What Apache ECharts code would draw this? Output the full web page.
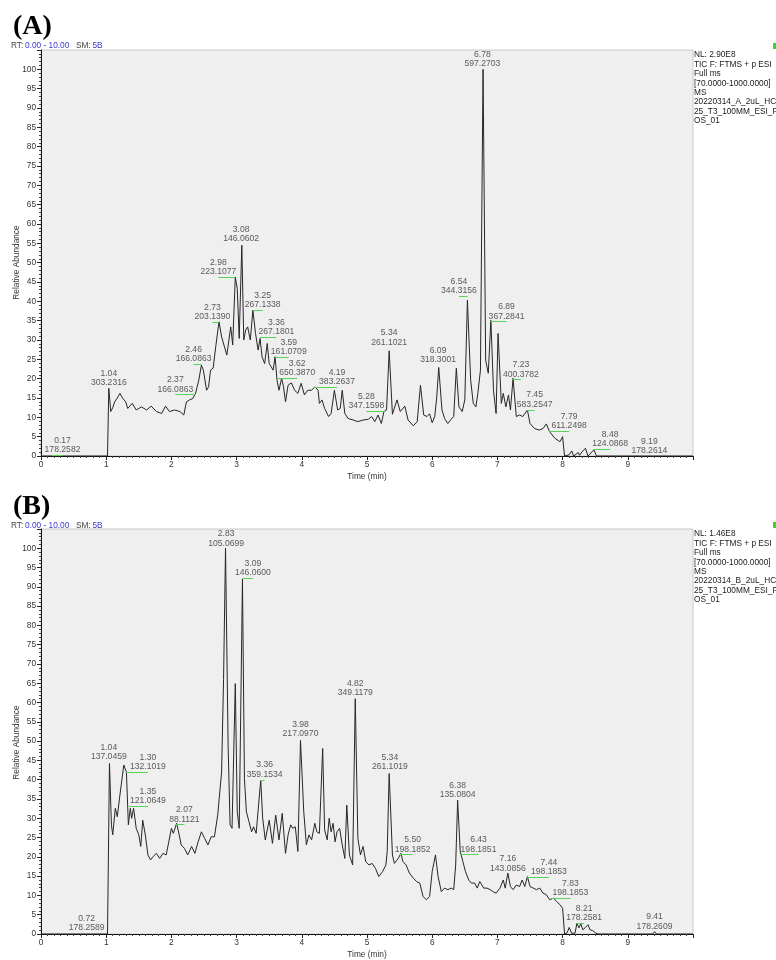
<!DOCTYPE html>
<html>
<head>
<meta charset="utf-8">
<title>TIC chromatograms</title>
<script src="https://cdn.jsdelivr.net/npm/echarts@6/dist/echarts.min.js"></script>
<style>
  html, body { margin: 0; padding: 0; background: #fff; }
  #chart { width: 776px; height: 960px; }
</style>
</head>
<body>
<div id="chart"></div>
<script>
// ---- data: retention time (min) and relative abundance (%) ----
const rtA = [0, 1.02, 1.04, 1.07, 1.10, 1.13, 1.17, 1.21, 1.25, 1.30, 1.33, 1.40, 1.46, 1.54, 1.62, 1.69, 1.77, 1.85, 1.91, 1.97,
  2.05, 2.13, 2.19, 2.23, 2.28, 2.33, 2.37, 2.42, 2.46, 2.49, 2.54, 2.57, 2.60, 2.64, 2.68, 2.73, 2.77, 2.80, 2.85, 2.91,
  2.94, 2.98, 3.01, 3.04, 3.08, 3.11, 3.14, 3.17, 3.21, 3.25, 3.29, 3.33, 3.36, 3.39, 3.43, 3.47, 3.50, 3.53, 3.56, 3.59,
  3.62, 3.65, 3.69, 3.72, 3.75, 3.79, 3.84, 3.89, 3.94, 3.99, 4.04, 4.09, 4.15, 4.20, 4.25, 4.27, 4.31, 4.35, 4.41, 4.45,
  4.50, 4.55, 4.59, 4.62, 4.66, 4.71, 4.79, 4.86, 4.94, 5.02, 5.07, 5.12, 5.17, 5.22, 5.26, 5.30, 5.34, 5.39, 5.46, 5.51,
  5.58, 5.63, 5.71, 5.77, 5.82, 5.87, 5.92, 5.96, 6.00, 6.04, 6.07, 6.10, 6.15, 6.19, 6.24, 6.29, 6.33, 6.37, 6.41, 6.46,
  6.50, 6.54, 6.59, 6.63, 6.67, 6.70, 6.74, 6.78, 6.82, 6.86, 6.90, 6.94, 6.98, 7.01, 7.06, 7.09, 7.13, 7.17, 7.20, 7.24,
  7.29, 7.34, 7.39, 7.46, 7.50, 7.57, 7.64, 7.70, 7.75, 7.80, 7.88, 7.96, 8.00, 8.03, 8.06, 8.10, 8.14, 8.17, 8.24, 8.26,
  8.30, 8.35, 8.39, 8.48, 8.52, 10];
const abA = [0, 0, 17.5, 11.5, 12.5, 14, 15, 16.2, 15, 14, 12.3, 13.6, 11.9, 12.7, 11.9, 12.9, 11.5, 11, 12.9, 11.5,
  11.9, 11.5, 10.6, 14, 14.5, 14.9, 16.2, 19.6, 23.5, 22.2, 17, 17.9, 22.2, 22.7, 28.3, 34.7, 30.8, 31.3, 26.1, 33.4,
  28.7, 46.3, 43.3, 30.4, 54.5, 30, 32.6, 33.4, 30, 37.7, 31.7, 27.4, 30.4, 25.7, 23.9, 29.1, 23.9, 23.1, 22.2, 25.7,
  19.6, 17, 20.1, 17.9, 14, 18.3, 18.9, 17, 16.2, 18.8, 15.8, 17, 17, 17.9, 17, 13.6, 14.5, 12.3, 10.2, 11,
  17, 11.9, 12.3, 17, 11, 9.7, 9.3, 8.9, 9.3, 9.5, 10.2, 8.9, 10.6, 8.4, 11.5, 11.9, 27.2, 10.8, 14.5, 11.5,
  12.9, 9.3, 7.8, 8.9, 18.3, 10.6, 10.2, 10.9, 8.6, 10.3, 15.3, 22.9, 11.9, 9.7, 8.4, 9.5, 10.2, 22.7, 12.7, 11.5,
  14.5, 40.3, 19.6, 13.6, 12.7, 16.2, 22.2, 100, 24.8, 21.4, 35.1, 17, 11, 31.7, 13.6, 16.2, 12.7, 15.8, 11.9, 20.1,
  10.2, 10.6, 10.2, 11.9, 8.4, 7.1, 6.7, 7.1, 8.3, 6.3, 4.6, 3.7, 5, 0, 0.5, 0.3, 1.3, 0, 0.9, 0.2,
  1.1, 2, 0, 1.6, 0, 0];

const rtB = [0, 1.02, 1.05, 1.08, 1.10, 1.14, 1.17, 1.21, 1.25, 1.27, 1.31, 1.34, 1.37, 1.39, 1.42, 1.46, 1.50, 1.53, 1.56, 1.60,
  1.64, 1.68, 1.72, 1.77, 1.82, 1.87, 1.92, 1.96, 2.00, 2.03, 2.08, 2.12, 2.15, 2.20, 2.25, 2.31, 2.36, 2.41, 2.46, 2.51,
  2.56, 2.61, 2.66, 2.71, 2.77, 2.80, 2.83, 2.87, 2.90, 2.93, 2.98, 3.01, 3.04, 3.09, 3.12, 3.15, 3.19, 3.23, 3.26, 3.30,
  3.33, 3.37, 3.40, 3.44, 3.50, 3.55, 3.60, 3.65, 3.70, 3.75, 3.79, 3.83, 3.86, 3.90, 3.94, 3.98, 4.03, 4.07, 4.11, 4.15,
  4.20, 4.23, 4.27, 4.32, 4.35, 4.39, 4.42, 4.45, 4.48, 4.51, 4.54, 4.58, 4.62, 4.66, 4.69, 4.73, 4.78, 4.82, 4.86, 4.90,
  4.94, 4.98, 5.03, 5.08, 5.13, 5.18, 5.24, 5.29, 5.31, 5.34, 5.39, 5.42, 5.48, 5.52, 5.55, 5.60, 5.65, 5.71, 5.76, 5.81,
  5.86, 5.91, 5.96, 6.00, 6.05, 6.09, 6.14, 6.19, 6.24, 6.29, 6.33, 6.36, 6.39, 6.43, 6.47, 6.51, 6.56, 6.60, 6.65, 6.69,
  6.73, 6.79, 6.84, 6.89, 6.93, 6.98, 7.04, 7.09, 7.12, 7.16, 7.20, 7.24, 7.29, 7.34, 7.38, 7.42, 7.46, 7.50, 7.55, 7.60,
  7.65, 7.70, 7.75, 7.80, 7.86, 7.91, 7.96, 8.00, 8.03, 8.07, 8.10, 8.14, 8.19, 8.22, 8.25, 8.28, 8.31, 8.35, 8.39, 8.42,
  8.46, 8.51, 8.55, 9.38, 9.41, 9.44, 10];
const abB = [0, 0, 44.2, 28.3, 25.7, 32.6, 30.4, 36, 41.2, 43.8, 42, 28.3, 32.6, 30, 32.6, 27.4, 25.7, 22.7, 29.5, 25.7,
  20.5, 19.2, 20.1, 20.9, 19.6, 20.9, 20.5, 23.9, 27.4, 26.1, 28.7, 25.7, 23.1, 22.2, 20.5, 22.7, 20.9, 23.9, 26.5, 24.8,
  23.1, 25.2, 25.2, 30.8, 42, 66, 100, 48.9, 28.3, 27.4, 64.9, 31.7, 27.4, 92, 40.3, 31.7, 29.1, 26.5, 27.8, 26.1,
  25.7, 39.9, 30, 24.4, 29.5, 23.5, 30.8, 24.4, 31.3, 20.9, 25.7, 28.3, 27.4, 27.8, 21.4, 50.2, 31.7, 23.1, 25.7, 24.4,
  28.7, 26.5, 26.1, 48.1, 27, 24.4, 30, 26.5, 28.7, 23.9, 26.5, 27.4, 23.1, 19.6, 33.4, 20.5, 17.9, 61, 24.8, 20.5,
  22.7, 18.8, 17.9, 18.3, 17, 14.9, 16.2, 17.9, 21.4, 41.6, 20.5, 18.3, 19.6, 20.9, 18.8, 17.9, 15.8, 14.5, 13.6, 13.2,
  9.7, 8.9, 9.7, 16.2, 20.5, 14.9, 11, 11.9, 11.5, 11.9, 11.5, 17.9, 34.7, 21.4, 18.8, 16.2, 14, 13.2, 13.2, 11.9,
  13.6, 11.9, 11.9, 11.5, 11, 10.6, 11.9, 14, 11.9, 15.8, 12.3, 11.5, 12.7, 12.3, 14, 12.3, 14.9, 12.3, 11.9, 11.5,
  11.9, 10.6, 10.2, 8.9, 9.3, 8.4, 7.6, 6.7, 0, 0.3, 1.7, 0.2, 0.2, 2.8, 1.6, 2.6, 1.1, 1.7, 2.4, 1.1,
  0.9, 0.2, 0, 0, 0.6, 0, 0];

// peak annotations: apex time, base-peak m/z, and where the label sits (time, abundance)
const peakRtA = ['0.17', '1.04', '2.37', '2.46', '2.73', '2.98', '3.08', '3.25', '3.36', '3.59', '3.62', '4.19',
  '5.28', '5.34', '6.09', '6.54', '6.78', '6.89', '7.23', '7.45', '7.79', '8.48', '9.19'];
const peakMzA = ['178.2582', '303.2316', '166.0863', '166.0863', '203.1390', '223.1077', '146.0602', '267.1338',
  '267.1801', '161.0709', '650.3870', '383.2637', '347.1598', '261.1021', '318.3001', '344.3156', '597.2703',
  '367.2841', '400.3782', '583.2547', '611.2498', '124.0868', '178.2614'];
const labelAtA = [[0.33, 0.5], [1.04, 17.9], [2.06, 16.2], [2.34, 24], [2.63, 35], [2.72, 46.6], [3.07, 55.1],
  [3.40, 38], [3.61, 31], [3.80, 25.8], [3.93, 20.5], [4.54, 18.1], [4.99, 11.9], [5.34, 28.3], [6.09, 23.8],
  [6.41, 41.6], [6.77, 100.4], [7.14, 35.1], [7.36, 20.1], [7.57, 12.3], [8.10, 6.7], [8.73, 2], [9.33, 0.3]];

const peakRtB = ['0.72', '1.04', '1.30', '1.35', '2.07', '2.83', '3.09', '3.36', '3.98', '4.82', '5.34', '5.50',
  '6.38', '6.43', '7.16', '7.44', '7.83', '8.21', '9.41'];
const peakMzB = ['178.2589', '137.0459', '132.1019', '121.0649', '88.1121', '105.0699', '146.0600', '359.1534',
  '217.0970', '349.1179', '261.1019', '198.1852', '135.0804', '198.1851', '143.0856', '198.1853', '198.1853',
  '178.2581', '178.2609'];
const labelAtB = [[0.70, 0.5], [1.04, 44.8], [1.64, 42.3], [1.64, 33.4], [2.20, 28.7], [2.84, 100.2], [3.25, 92.6],
  [3.43, 40.3], [3.98, 50.8], [4.82, 61.4], [5.35, 42.2], [5.70, 20.9], [6.39, 35.1], [6.71, 20.9], [7.16, 16],
  [7.79, 15.1], [8.12, 9.7], [8.33, 3.1], [9.41, 0.9]];

const xTicks = [0, 1, 2, 3, 4, 5, 6, 7, 8, 9];
const yTicks = [0, 5, 10, 15, 20, 25, 30, 35, 40, 45, 50, 55, 60, 65, 70, 75, 80, 85, 90, 95, 100];

const infoA = ['NL: 2.90E8', 'TIC F: FTMS + p ESI', 'Full ms', '[70.0000-1000.0000]', 'MS',
  '20220314_A_2uL_HC', '25_T3_100MM_ESI_P', 'OS_01'];
const infoB = ['NL: 1.46E8', 'TIC F: FTMS + p ESI', 'Full ms', '[70.0000-1000.0000]', 'MS',
  '20220314_B_2uL_HC', '25_T3_100MM_ESI_P', 'OS_01'];

// ---- layout ----
const FONT = 'Arial, "Liberation Sans", sans-serif';
const TXT = '#333';
const panels = [
  { top: 50, height: 406, rt: rtA, ab: abA, peaks: peakRtA, mz: peakMzA, at: labelAtA, info: infoA, tag: '(A)' },
  { top: 529, height: 407, rt: rtB, ab: abB, peaks: peakRtB, mz: peakMzB, at: labelAtB, info: infoB, tag: '(B)' }
];

const grids = [], xAxes = [], yAxes = [], series = [], graphics = [];

panels.forEach((p, i) => {
  grids.push({
    left: 41, top: p.top, width: 652, height: p.height,
    show: true, backgroundColor: '#efefef', borderColor: '#c9c9c9', borderWidth: 1
  });

  xAxes.push({
    gridIndex: i, type: 'value', min: 0, max: 10, interval: 1,
    name: 'Time (min)', nameLocation: 'middle', nameGap: 17,
    nameTextStyle: { fontFamily: FONT, fontSize: 8.3, color: TXT },
    axisLine: { show: true, onZero: false, lineStyle: { color: '#111', width: 1 } },
    axisTick: { show: true, length: 4, lineStyle: { color: '#222' } },
    minorTick: { show: true, splitNumber: 10, length: 2, lineStyle: { color: '#444' } },
    axisLabel: {
      fontFamily: FONT, fontSize: 8.3, color: TXT, margin: 5,
      formatter: v => (xTicks.includes(v) ? String(v) : '')
    },
    splitLine: { show: false }
  });

  yAxes.push({
    gridIndex: i, type: 'value', min: 0, max: 105, interval: 5,
    axisLine: { show: true, lineStyle: { color: '#111', width: 1 } },
    axisTick: { show: true, length: 4, lineStyle: { color: '#222' } },
    minorTick: { show: true, splitNumber: 5, length: 2, lineStyle: { color: '#444' } },
    axisLabel: {
      fontFamily: FONT, fontSize: 8.3, color: TXT, margin: 5,
      formatter: v => (yTicks.includes(v) ? String(v) : '')
    },
    splitLine: { show: false }
  });

  series.push({
    type: 'line', xAxisIndex: i, yAxisIndex: i,
    data: p.rt.map((t, k) => [t, p.ab[k]]),
    showSymbol: false, symbol: 'none', silent: true,
    lineStyle: { color: '#262626', width: 1 },
    z: 3
  });

  // labels + green connectors from label to apex
  series.push({
    type: 'scatter', xAxisIndex: i, yAxisIndex: i,
    symbolSize: 1, itemStyle: { color: 'rgba(0,0,0,0)' }, silent: true,
    data: p.at.map((pos, k) => ({ value: pos, name: p.peaks[k] + '\n' + p.mz[k] })),
    label: {
      show: true, position: 'top', distance: -1,
      formatter: '{b}', fontFamily: FONT, fontSize: 8.6, lineHeight: 9.3,
      color: TXT, align: 'center'
    },
    markLine: {
      silent: true, symbol: 'none', animation: false,
      label: { show: false },
      lineStyle: { color: '#55d455', width: 1, type: 'solid', opacity: 1 },
      data: p.at
        .map((pos, k) => [parseFloat(p.peaks[k]), pos])
        .filter(([t, pos]) => Math.abs(t - pos[0]) > 0.05)
        .map(([t, pos]) => [{ coord: [Math.min(t, pos[0]), pos[1] - 0.35] }, { coord: [Math.max(t, pos[0]), pos[1] - 0.35] }])
    },
    z: 4
  });

  const off = i === 0 ? 0 : 480;
  graphics.push(
    { type: 'text', left: 13, top: 13 + off,
      style: { text: p.tag, font: 'bold 28px "Liberation Serif", "Times New Roman", serif', fill: '#000' } },
    { type: 'text', x: 11, y: 45.5 + off, style: { text: 'RT:', font: '8.3px ' + FONT, fill: '#444', verticalAlign: 'middle' } },
    { type: 'text', x: 25, y: 45.5 + off, style: { text: '0.00 - 10.00', font: '8.3px ' + FONT, fill: '#3a3ad0', verticalAlign: 'middle' } },
    { type: 'text', x: 76, y: 45.5 + off, style: { text: 'SM:', font: '8.3px ' + FONT, fill: '#444', verticalAlign: 'middle' } },
    { type: 'text', x: 92.5, y: 45.5 + off, style: { text: '5B', font: '8.3px ' + FONT, fill: '#3a3ad0', verticalAlign: 'middle' } },
    { type: 'text', x: 694, y: p.top + 0.5,
      style: { text: p.info.join('\n'), font: '8.3px ' + FONT, lineHeight: 9.4, fill: '#1a1a1a', verticalAlign: 'top' } },
    { type: 'rect', shape: { x: 773, y: p.top - 7, width: 4, height: 6 }, style: { fill: '#2ddc2d' } },
    { type: 'text', x: 17, y: p.top + p.height - 193.5, rotation: Math.PI / 2,
      style: { text: 'Relative Abundance', font: '8.3px ' + FONT, fill: TXT, align: 'center', verticalAlign: 'middle' } }
  );
});

const chart = echarts.init(document.getElementById('chart'), null, { renderer: 'canvas' });
chart.setOption({
  animation: false,
  backgroundColor: '#ffffff',
  grid: grids,
  xAxis: xAxes,
  yAxis: yAxes,
  series: series,
  graphic: graphics
});
</script>
</body>
</html>
